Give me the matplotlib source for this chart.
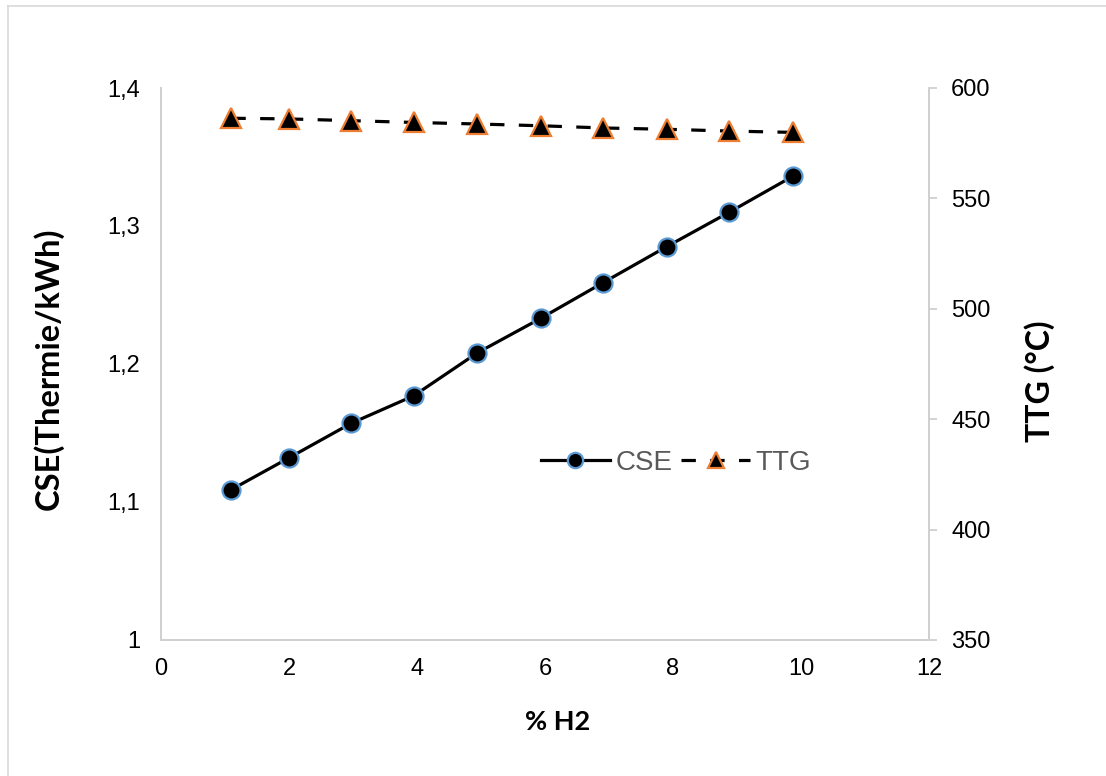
import matplotlib
matplotlib.use("Agg")
import matplotlib.pyplot as plt
from matplotlib.ticker import FuncFormatter, MultipleLocator
from matplotlib.lines import Line2D

# Hydrogen share (%) and measured quantities
h2_pct = [1.1, 2.0, 2.97, 3.95, 4.94, 5.93, 6.91, 7.90, 8.88, 9.87]
cse = [1.109, 1.132, 1.157, 1.177, 1.208, 1.233, 1.259, 1.285, 1.310, 1.336]
ttg = [586.3, 586.0, 585.2, 584.4, 583.7, 582.9, 581.9, 581.3, 580.5, 579.9]

W, H = 1106, 776
fig = plt.figure(figsize=(W / 100, H / 100), dpi=100)

# outer chart border (left and top edges)
fig.add_artist(Line2D([8 / W, 8 / W], [0, 1 - 6 / H], color="#D9D9D9", lw=1.2))
fig.add_artist(Line2D([8 / W, 1], [1 - 6 / H, 1 - 6 / H], color="#D9D9D9", lw=1.2))

left, right, top, bottom = 161, 929, 88, 640
ax = fig.add_axes([left / W, 1 - bottom / H, (right - left) / W, (bottom - top) / H])
ax2 = ax.twinx()

spine_col = "#D0D0D0"

l1, = ax.plot(h2_pct, cse, color="black", lw=2.3, marker="o", markersize=13,
              markerfacecolor="black", markeredgecolor="#5B9BD5", markeredgewidth=1.6,
              label="CSE", zorder=3)
l2, = ax2.plot(h2_pct, ttg, color="black", lw=2.3, ls=(0, (4.5, 4.5)), marker="^",
               markersize=14, markerfacecolor="black", markeredgecolor="#ED7D31",
               markeredgewidth=1.6, label="TTG", zorder=3)

ax.set_xlim(0, 12)
ax.set_ylim(1.0, 1.4)
ax2.set_ylim(350, 600)
ax.xaxis.set_major_locator(MultipleLocator(2))
ax.yaxis.set_major_locator(MultipleLocator(0.1))
ax2.yaxis.set_major_locator(MultipleLocator(50))


def comma_fmt(v, pos):
    s = f"{v:.1f}".rstrip("0").rstrip(".")
    return s.replace(".", ",")


ax.yaxis.set_major_formatter(FuncFormatter(comma_fmt))

for a in (ax, ax2):
    for s in a.spines.values():
        s.set_color(spine_col)
        s.set_linewidth(1.3)
    a.spines["top"].set_visible(False)

ax.tick_params(axis="y", length=0, pad=15, labelsize=17)
ax.tick_params(axis="x", length=0, pad=13, labelsize=17)
ax2.tick_params(axis="y", length=6, width=1.3, color=spine_col, pad=10, labelsize=17)
for lab in ax.get_xticklabels() + ax.get_yticklabels() + ax2.get_yticklabels():
    lab.set_fontfamily("Liberation Sans")

label_font = dict(family="Lato", weight="bold")
fig.text(558 / W, 1 - 722 / H, "% H2", ha="center", va="center", size=19.5, **label_font)
fig.text(48 / W, 1 - 369 / H, "CSE(Thermie/kWh)", ha="center", va="center",
         rotation=90, size=23.5, **label_font)
fig.text(1040 / W, 1 - 381 / H, "TTG (°C)", ha="center", va="center",
         rotation=90, size=23, **label_font)

leg = ax.legend(handles=[l1, l2], loc="center",
                bbox_to_anchor=((676 - left) / (right - left), (bottom - 463) / (bottom - top)),
                ncol=2, frameon=False, handlelength=2.5, columnspacing=0.3, handletextpad=0.2,
                markerscale=0.85, prop=dict(family="Liberation Sans", size=20))
for t in leg.get_texts():
    t.set_color("#595959")

fig.savefig("out.png", dpi=100, facecolor="white")
